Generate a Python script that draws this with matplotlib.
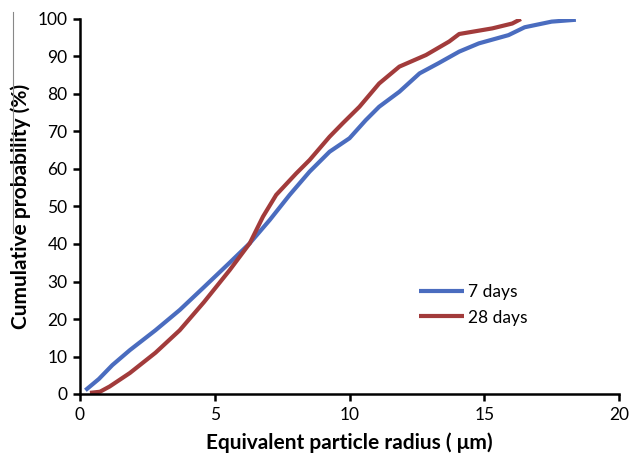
import matplotlib
matplotlib.use("Agg")
import matplotlib.pyplot as plt
from matplotlib.lines import Line2D

days7_x = [0.2, 0.7, 1.2, 1.85, 2.8, 3.7, 4.6, 5.55, 6.3, 7.04, 7.78, 8.52, 9.26, 10.0,
           10.6, 11.1, 11.85, 12.6, 13.3, 14.07, 14.8, 15.9, 16.5, 17.5, 18.4]
days7_y = [1, 4, 7.7, 11.7, 17, 22.4, 28.5, 35, 40.2, 46.4, 53.1, 59.3, 64.6, 68.2,
           73, 76.6, 80.6, 85.5, 88.2, 91.3, 93.5, 95.7, 97.8, 99.3, 99.8]

days28_x = [0.37, 0.74, 1.1, 1.85, 2.8, 3.7, 4.6, 5.55, 6.3, 6.79, 7.28, 8.02, 8.52, 9.26,
            9.75, 10.37, 11.1, 11.85, 12.84, 13.7, 14.07, 15.3, 16.04, 16.36]
days28_y = [0.3, 0.6, 2, 5.6, 11, 17, 24.5, 33, 40.2, 47.3, 53.1, 58.8, 62.4, 68.6,
            72.2, 76.6, 82.8, 87.3, 90.4, 94, 96, 97.5, 98.8, 100]

x_ticks = [0, 5, 10, 15, 20]
y_ticks = [0, 10, 20, 30, 40, 50, 60, 70, 80, 90, 100]

plt.rcParams['font.family'] = ['Lato', 'DejaVu Sans']

fig = plt.figure(figsize=(6.38, 4.57), dpi=100)
ax = fig.add_axes([80/638, 1 - 394/457, (619-80)/638, (394-19)/457])

ax.plot(days7_x, days7_y, color='#4a6cbf', lw=3, label='7 days', solid_capstyle='butt')
ax.plot(days28_x, days28_y, color='#a23b3b', lw=3, label='28 days', solid_capstyle='butt')

ax.set_xlim(0, 20)
ax.set_ylim(0, 100)
ax.set_xticks(x_ticks)
ax.set_yticks(y_ticks)
for s in ['top', 'right']:
    ax.spines[s].set_visible(False)
for s in ['left', 'bottom']:
    ax.spines[s].set_linewidth(1.8)
ax.tick_params(axis='both', direction='out', length=5, width=1.8, labelsize=12.5, pad=4)

ax.set_xlabel('Equivalent particle radius ( μm)', fontsize=15, fontweight='bold', labelpad=7)
ax.set_ylabel('Cumulative probability (%)', fontsize=15, fontweight='bold', labelpad=5)

ax.legend(loc='upper left', bbox_to_anchor=(0.6, 0.335), frameon=False, fontsize=12.5,
          handlelength=2.6, handletextpad=0.2, labelspacing=0.55)

fig.add_artist(Line2D([13/638, 13/638], [1 - 12/457, 1 - 233/457], color='#888888', lw=0.8))

fig.savefig('out.png', dpi=100)
